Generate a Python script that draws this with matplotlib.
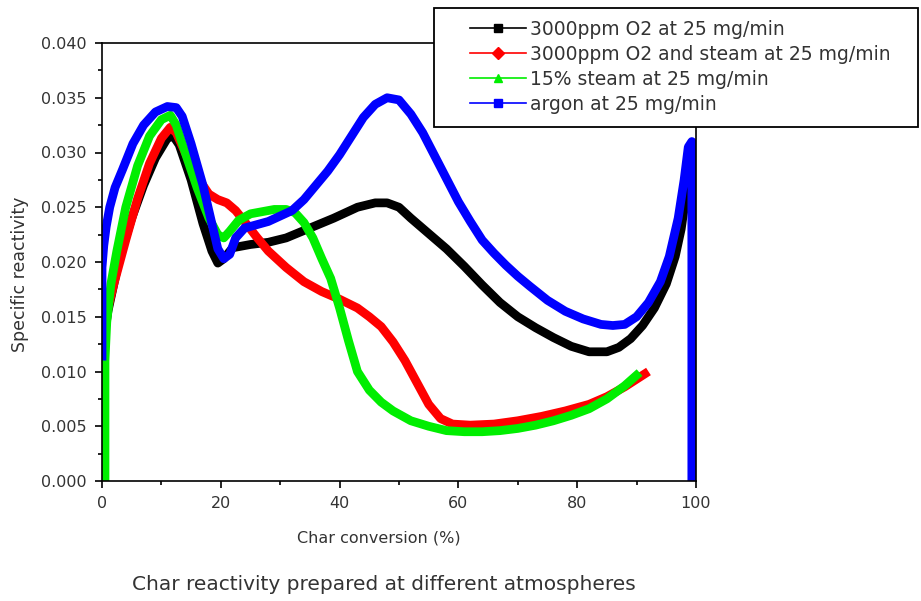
import matplotlib
matplotlib.use("Agg")
import matplotlib.pyplot as plt
from matplotlib.lines import Line2D
from matplotlib.patches import Rectangle
from matplotlib.ticker import MultipleLocator, FormatStrFormatter

plt.rcParams['font.family'] = ['DejaVu Sans']

labels = ["3000ppm O2 at 25 mg/min",
          "3000ppm O2 and steam at 25 mg/min",
          "15% steam at 25 mg/min",
          "argon at 25 mg/min"]
colors = ["#000000", "#ff0000", "#00ee00", "#0000ff"]
markers = ["s", "D", "^", "s"]

x_o2 = [0, 0.3, 1, 2, 3, 5, 7, 9, 11, 12, 13, 15, 17, 18.5, 19.5, 20.5, 22, 25, 28, 31,
        35, 39, 43, 46, 48, 50, 52, 55, 58, 61, 64, 67, 70, 73, 76, 79, 82, 85, 87, 89,
        91, 93, 95, 96.5, 97.5, 98.3, 98.8]
y_o2 = [0.0105, 0.013, 0.0155, 0.018, 0.0205, 0.024, 0.027, 0.0295, 0.0313, 0.0315, 0.0307,
        0.0275, 0.0235, 0.0210, 0.0199, 0.0203, 0.0213, 0.0216, 0.0218, 0.0222, 0.0231, 0.0240,
        0.0250, 0.0254, 0.0254, 0.0250, 0.0240, 0.0226, 0.0212, 0.0196, 0.0179, 0.0163, 0.0150,
        0.0140, 0.0131, 0.0123, 0.0118, 0.0118, 0.0122, 0.0130, 0.0142, 0.0158, 0.0180, 0.0205,
        0.0230, 0.0260, 0.0285]

x_o2s = [0.3, 1, 2, 3, 4, 6, 8, 10, 11.5, 12.5, 14, 16, 18, 19.5, 21, 22.5, 24, 26, 28, 31,
         34, 37, 40, 43, 45, 47, 49, 51, 53, 55, 57, 59, 62, 66, 70, 74, 78, 82, 85, 88, 90, 92]
y_o2s = [0.0145, 0.0158, 0.018, 0.020, 0.022, 0.0258, 0.029, 0.0313, 0.0323, 0.0318, 0.0300,
         0.0278, 0.0262, 0.0257, 0.0254, 0.0247, 0.0237, 0.0223, 0.0210, 0.0195, 0.0182, 0.0173,
         0.0166, 0.0158, 0.0150, 0.0141, 0.0127, 0.0110, 0.0090, 0.0070, 0.0057, 0.0052, 0.0051,
         0.0052, 0.0055, 0.0059, 0.0064, 0.0070, 0.0077, 0.0086, 0.0093, 0.0100]

x_st = [0.5, 0.5, 0.8, 1.5, 2.5, 4, 6, 8, 10, 11.5, 12.5, 14, 16, 18, 19.5, 20.5, 21.5, 23,
        25, 27, 29, 31, 32.5, 34, 35.5, 37, 38.5, 40, 41.5, 43, 45, 47, 49, 52, 55, 58, 61,
        64, 67, 70, 73, 76, 79, 82, 85, 88, 90.5]
y_st = [0.0, 0.011, 0.0145, 0.018, 0.021, 0.025, 0.0288, 0.0315, 0.0330, 0.0334, 0.0325,
        0.0300, 0.0268, 0.0240, 0.0225, 0.0222, 0.0228, 0.0238, 0.0244, 0.0246, 0.0248, 0.0248,
        0.0245, 0.0236, 0.0222, 0.0203, 0.0185, 0.0158, 0.0128, 0.0100, 0.0083, 0.0072, 0.0064,
        0.0055, 0.0050, 0.0046, 0.0045, 0.0045, 0.0046, 0.0048, 0.0051, 0.0055, 0.0060, 0.0066,
        0.0075, 0.0087, 0.0099]

x_ar = [0, 0, 0.3, 0.7, 1.3, 2.2, 3.5, 5.2, 7, 9, 11, 12.5, 13.5, 15, 17, 18.5, 19.5, 20.5,
        21.5, 22.5, 24, 26, 28, 30, 32, 34, 36, 38, 40, 42, 44, 46, 48, 50, 52, 54, 56, 58,
        60, 62, 64, 66, 68, 70, 72, 75, 78, 81, 84, 86, 88, 90, 92, 94, 95.5, 97, 98, 98.7,
        99.3, 99.3]
y_ar = [0.011, 0.0195, 0.0215, 0.0232, 0.0250, 0.0268, 0.0285, 0.0308, 0.0325, 0.0337, 0.0342,
        0.0341, 0.0333, 0.0308, 0.0270, 0.0235, 0.0212, 0.0203, 0.0207, 0.0222, 0.0231, 0.0234,
        0.0237, 0.0242, 0.0247, 0.0257, 0.0270, 0.0283, 0.0298, 0.0315, 0.0332, 0.0344, 0.0350,
        0.0348, 0.0335, 0.0318, 0.0297, 0.0276, 0.0255, 0.0237, 0.0220, 0.0208, 0.0197, 0.0187,
        0.0178, 0.0165, 0.0155, 0.0148, 0.0143, 0.0142, 0.0143, 0.0150, 0.0163, 0.0182, 0.0205,
        0.0240, 0.0275, 0.0305, 0.0310, 0.0]

series = [(x_o2, y_o2), (x_o2s, y_o2s), (x_st, y_st), (x_ar, y_ar)]

W, H = 921, 601
fig = plt.figure(figsize=(W/100, H/100), dpi=100)
ax = fig.add_axes([102/W, 1 - 481/H, (696-102)/W, (481-43)/H])

for (xs, ys), c in zip(series, colors):
    ax.plot(xs, ys, color=c, lw=6.3, solid_joinstyle='round', solid_capstyle='butt')

ax.set_xlim(0, 100)
ax.set_ylim(0, 0.040)
ax.xaxis.set_major_locator(MultipleLocator(20))
ax.xaxis.set_minor_locator(MultipleLocator(10))
ax.yaxis.set_major_locator(MultipleLocator(0.005))
ax.yaxis.set_minor_locator(MultipleLocator(0.0025))
ax.yaxis.set_major_formatter(FormatStrFormatter('%.3f'))
txt = '#333333'
ax.tick_params(which='major', direction='out', length=5, width=1.2, labelsize=11.5,
               labelcolor=txt, pad=6)
ax.tick_params(which='minor', direction='out', length=3, width=1.2)
for s in ax.spines.values():
    s.set_linewidth(1.2)

fig.text(297/W, 1 - 538/H, "Char conversion (%)", fontsize=11.5, color=txt,
         ha='left', va='center')
fig.text(20/W, 1 - 274/H, "Specific reactivity", fontsize=12.5, color=txt,
         ha='center', va='center', rotation=90)
fig.text(132/W, 1 - 585/H, "Char reactivity prepared at different atmospheres",
         fontsize=14.5, color=txt, ha='left', va='center')

rect = Rectangle((434/W, 1 - 127/H), (918-434)/W, (127-8)/H, transform=fig.transFigure,
                 facecolor='white', edgecolor='black', lw=1.3, zorder=5)
fig.patches.append(rect)

handles = [Line2D([], [], color=c, lw=1.2, marker=m, markersize=6) for c, m in zip(colors, markers)]
leg = fig.legend(handles, labels, loc='upper left', bbox_to_anchor=(470/W, 1 - 20/H),
                 frameon=False, fontsize=13.5, handlelength=3.0, handletextpad=0.2,
                 labelspacing=0.32, borderpad=0, borderaxespad=0)
for t in leg.get_texts():
    t.set_color(txt)
leg.set_zorder(6)

fig.savefig("out.png", dpi=100)
